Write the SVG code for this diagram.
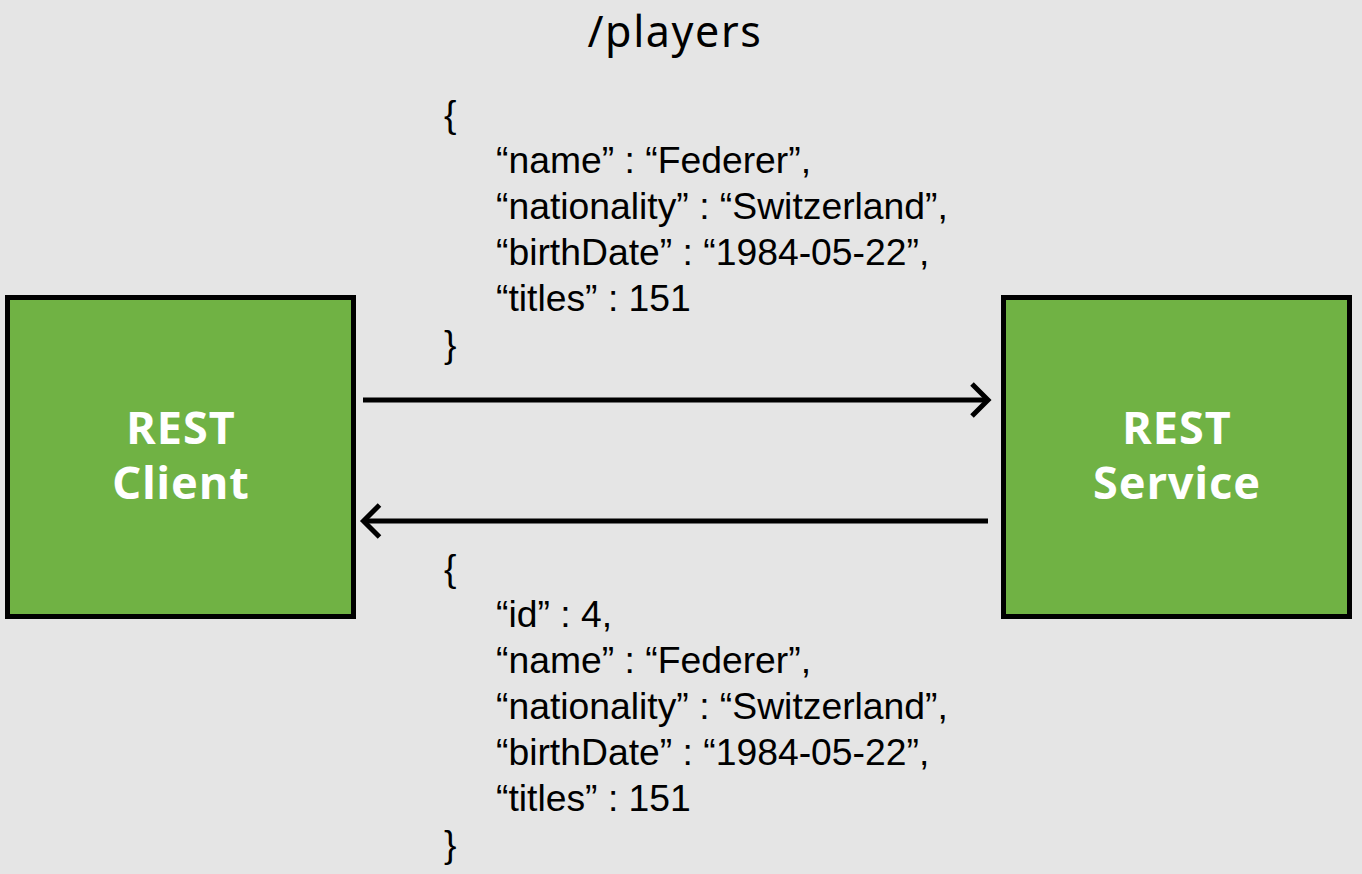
<svg xmlns="http://www.w3.org/2000/svg" width="1362" height="874" viewBox="0 0 1362 874">
<style>
.bg{fill:#e5e5e5}
.box{fill:#70b244;stroke:#000;stroke-width:5}
.lbl{font-family:"Noto Sans","DejaVu Sans",sans-serif;font-weight:700;font-size:45px;fill:#fff;text-anchor:middle;letter-spacing:1px}
.title{font-family:"Noto Sans","DejaVu Sans",sans-serif;font-size:43px;fill:#000;text-anchor:middle;letter-spacing:1.6px}
.json{font-family:"Liberation Sans",Arial,sans-serif;font-size:37.3px;fill:#000}
.conn{fill:none;stroke:#000;stroke-width:5}
.head{fill:none;stroke:#000;stroke-width:5;stroke-linejoin:miter;stroke-miterlimit:10}
</style>
<rect class="bg" x="0" y="0" width="1362" height="874"/>
<text class="title" x="675" y="47">/players</text>
<g id="client">
<rect class="box" x="7.5" y="297.5" width="346" height="319"/>
<text class="lbl" x="181" y="444">REST</text>
<text class="lbl" x="181" y="499">Client</text>
</g>
<g id="service">
<rect class="box" x="1003.5" y="297.5" width="346" height="319"/>
<text class="lbl" x="1177" y="444">REST</text>
<text class="lbl" x="1177" y="499">Service</text>
</g>
<g id="connectors">
<line class="conn" x1="363" y1="400" x2="987" y2="400"/>
<polyline class="head" points="972,384 988,400 972,416"/>
<line class="conn" x1="366" y1="521" x2="988" y2="521"/>
<polyline class="head" points="379.5,505 363.5,521 379.5,537"/>
</g>
<g id="request-body">
<text class="json" x="444" y="127">{</text>
<text class="json" x="496" y="173">“name” : “Federer”,</text>
<text class="json" x="496" y="219">“nationality” : “Switzerland”,</text>
<text class="json" x="496" y="265">“birthDate” : “1984-05-22”,</text>
<text class="json" x="496" y="311">“titles” : 151</text>
<text class="json" x="444" y="357">}</text>
</g>
<g id="response-body">
<text class="json" x="444" y="581">{</text>
<text class="json" x="496" y="627">“id” : 4,</text>
<text class="json" x="496" y="673">“name” : “Federer”,</text>
<text class="json" x="496" y="719">“nationality” : “Switzerland”,</text>
<text class="json" x="496" y="765">“birthDate” : “1984-05-22”,</text>
<text class="json" x="496" y="811">“titles” : 151</text>
<text class="json" x="444" y="857">}</text>
</g>
</svg>
